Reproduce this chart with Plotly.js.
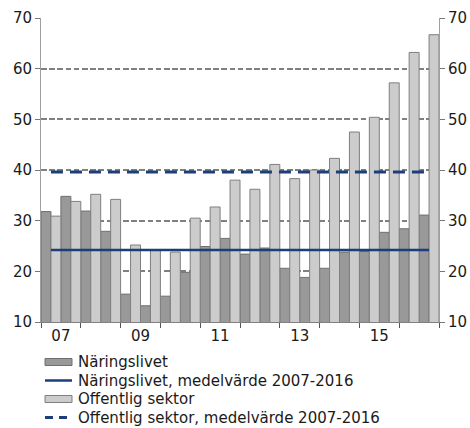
<!DOCTYPE html>
<html>
<head>
<meta charset="utf-8">
<script src="https://cdn.plot.ly/plotly-3.0.1.min.js"></script>
<style>
  html, body { margin: 0; padding: 0; background: #fff; }
  #chart { width: 470px; height: 428px; }
</style>
</head>
<body>
<div id="chart"></div>
<script>
// ---- data ----
var periods = [
  '2007 H1','2007 H2','2008 H1','2008 H2','2009 H1','2009 H2','2010 H1','2010 H2',
  '2011 H1','2011 H2','2012 H1','2012 H2','2013 H1','2013 H2','2014 H1','2014 H2',
  '2015 H1','2015 H2','2016 H1','2016 H2'
];
var naringslivet = [31.8, 34.8, 31.9, 27.9, 15.5, 13.2, 15.1, 19.8, 24.9, 26.5,
                    23.4, 24.6, 20.6, 18.8, 20.6, 23.8, 23.9, 27.7, 28.4, 31.1];
var offentlig    = [30.9, 33.8, 35.2, 34.2, 25.2, 24.1, 23.8, 30.5, 32.7, 38.0,
                    36.2, 41.1, 38.3, 40.0, 42.3, 47.5, 50.4, 57.2, 63.2, 66.7];
var meanNaringslivet = 24.2;
var meanOffentlig = 39.6;
var tickYears = [2007.5, 2009.5, 2011.5, 2013.5, 2015.5];
var tickLabels = ['07', '09', '11', '13', '15'];
var seriesNames = ['Näringslivet', 'Näringslivet, medelvärde 2007-2016',
                   'Offentlig sektor', 'Offentlig sektor, medelvärde 2007-2016'];

// ---- positions (half-year centres on a year axis) ----
var xPos = periods.map(function (p) {
  var parts = p.split(' H');
  return Number(parts[0]) + (parts[1] === '1' ? 0.25 : 0.75);
});
var xEnds = [xPos[0], xPos[xPos.length - 1]];

// ---- styles ----
var FONT = 'DejaVu Sans, Verdana, sans-serif';
var DARK = '#999999', DARK_LINE = '#6f6f6f';
var LIGHT = '#cccccc', LIGHT_LINE = '#7f7f7f';
var NAVY = '#1c3f7c';
var ML = 41, MR = 31, MT = 18, MB = 106, W = 470, H = 428;
var PW = W - ML - MR, PH = H - MT - MB;
function px(x) { return (x - ML) / PW; }
function py(y) { return (H - MB - y) / PH; }

var traces = [
  { type: 'bar', x: xPos, y: naringslivet, name: seriesNames[0],
    marker: { color: DARK, line: { color: DARK_LINE, width: 1 } }, showlegend: false },
  { type: 'bar', x: xPos, y: offentlig, name: seriesNames[2],
    marker: { color: LIGHT, line: { color: LIGHT_LINE, width: 1 } }, showlegend: false },
  { type: 'scatter', mode: 'lines', x: xEnds, y: [meanNaringslivet, meanNaringslivet],
    name: seriesNames[1], line: { color: NAVY, width: 2.5 }, showlegend: false },
  { type: 'scatter', mode: 'lines', x: xEnds, y: [meanOffentlig, meanOffentlig],
    name: seriesNames[3], yaxis: 'y2',
    line: { color: NAVY, width: 3, dash: '12px,7px' }, showlegend: false }
];

// ---- custom legend ----
var rows = [362, 380.5, 399, 417.5];
var shapes = [
  { type: 'rect', xref: 'paper', yref: 'paper', x0: px(45), x1: px(72), y0: py(rows[0] - 3.5), y1: py(rows[0] + 3.5),
    fillcolor: DARK, line: { color: DARK_LINE, width: 1 } },
  { type: 'line', xref: 'paper', yref: 'paper', x0: px(45), x1: px(72), y0: py(rows[1]), y1: py(rows[1]),
    line: { color: NAVY, width: 2.5 } },
  { type: 'rect', xref: 'paper', yref: 'paper', x0: px(45), x1: px(72), y0: py(rows[2] - 3.5), y1: py(rows[2] + 3.5),
    fillcolor: LIGHT, line: { color: LIGHT_LINE, width: 1 } },
  { type: 'line', xref: 'paper', yref: 'paper', x0: px(45), x1: px(72), y0: py(rows[3]), y1: py(rows[3]),
    line: { color: NAVY, width: 3, dash: '8px,6px' } }
];
var annotations = rows.map(function (r, i) {
  return { xref: 'paper', yref: 'paper', x: px(76), y: py(r), xanchor: 'left', yanchor: 'middle',
           text: seriesNames[i], showarrow: false, font: { family: FONT, size: 15, color: '#1a1a1a' } };
});

var yAxisCommon = {
  range: [10, 70], dtick: 10, tick0: 10, ticks: 'outside', ticklen: 5, tickcolor: '#777',
  showline: true, linecolor: '#a0a0a0', linewidth: 1, zeroline: false,
  tickfont: { family: FONT, size: 15, color: '#1a1a1a' }, fixedrange: true
};

var layout = {
  width: W, height: H,
  margin: { l: ML, r: MR, t: MT, b: MB, pad: 0 },
  paper_bgcolor: '#fff', plot_bgcolor: '#fff',
  barmode: 'group', bargap: 0, bargroupgap: 0,
  showlegend: false,
  font: { family: FONT, size: 15, color: '#1a1a1a' },
  xaxis: {
    range: [2007, 2017], tickmode: 'array', tickvals: tickYears, ticktext: tickLabels,
    ticks: '', showgrid: false, zeroline: false, showline: true, linecolor: '#808080', linewidth: 1,
    tickfont: { family: FONT, size: 15, color: '#1a1a1a' },
    minor: { tickmode: 'linear', tick0: 2007, dtick: 1, ticks: 'outside', ticklen: 5, tickcolor: '#555', showgrid: false }
  },
  yaxis: Object.assign({}, yAxisCommon, {
    side: 'left', showgrid: true, gridcolor: '#808080', gridwidth: 1.7, griddash: '5.5px,2.7px'
  }),
  yaxis2: Object.assign({}, yAxisCommon, {
    side: 'right', overlaying: 'y', showgrid: false
  }),
  shapes: shapes,
  annotations: annotations
};

Plotly.newPlot('chart', traces, layout, { displayModeBar: false, staticPlot: true });
</script>
</body>
</html>
